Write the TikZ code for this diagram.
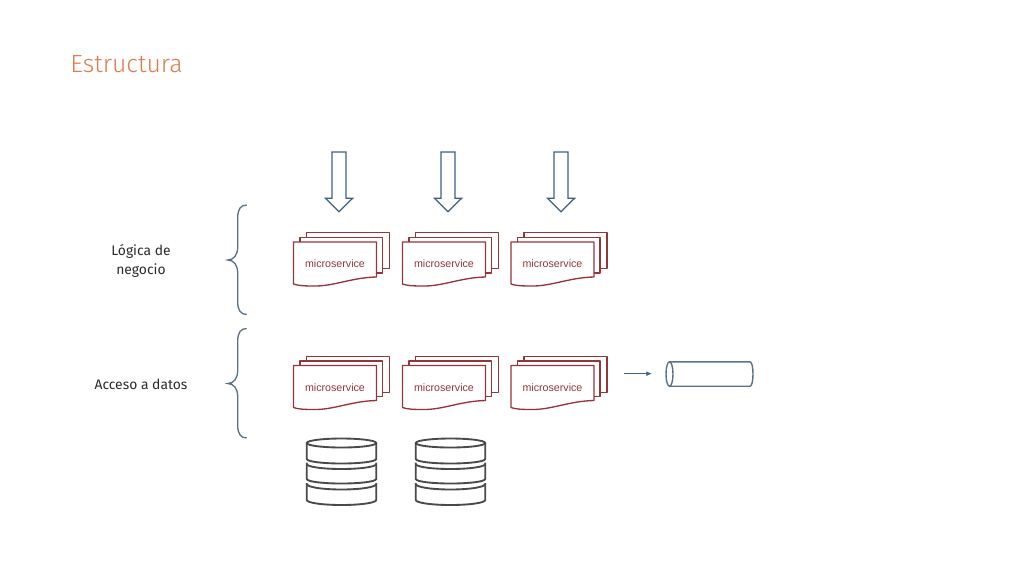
\documentclass[tikz,border=0pt]{standalone}
\usepackage{fontspec}
\setmainfont{Fira Sans}
\setsansfont{Liberation Sans}
\newfontfamily\thinfont{Fira Sans Light}
\usetikzlibrary{arrows.meta}
\definecolor{title}{HTML}{E07B4F}
\definecolor{label}{HTML}{2B2B2B}
\definecolor{wine}{HTML}{953439}
\definecolor{steel}{HTML}{3F5F85}
\definecolor{slate}{HTML}{5B7189}
\definecolor{graphite}{HTML}{4A4A4A}
\tikzset{
  caption/.style={font=\fontsize{10.4}{14.3}\selectfont, text=label, align=center, inner sep=0pt},
  sheet/.style={draw=wine, line width=1pt, line join=round},
  arrow/.style={-{Latex[length=1.5mm,width=1.3mm]}, draw=steel, line width=0.85pt},
  brace/.style={draw=slate, line width=1pt},
  disk/.style={draw=graphite, line width=1.4pt},
  inflow/.style={draw=steel, line width=1pt, line join=miter},
  queue/.style={draw=slate, line width=1.05pt},
  msstack/.pic={
    \draw[sheet] (13,-4.6) -- (13,-9.3) -- (96,-9.3) -- (96,26.7) -- (89,26.7);
    \draw[sheet] (6.5,0) -- (6.5,-4.6) -- (89,-4.6) -- (89,31) -- (83,31);
    \draw[sheet] (0,0) -- (83,0) -- (83,35) .. controls (58,35.5) and (40,44.5) .. (20,44)
      .. controls (10,44) and (4,43.5) .. (0,42) -- cycle;
    \node[font=\sffamily\fontsize{8}{10}\selectfont, text=wine, inner sep=0pt] (-text) at (41.5,21.7) {microservice};
  },
  dbstack/.pic={
    \draw[disk] (0,0) ellipse (34.7 and 4.5);
    \draw[disk] (-34.7,0) -- (-34.7,16) arc[start angle=180, end angle=360, x radius=34.7, y radius=-4.5] -- (34.7,0);
    \draw[disk] (-34.7,21) arc[start angle=180, end angle=360, x radius=34.7, y radius=-5];
    \draw[disk] (-34.7,19.5) -- (-34.7,36) arc[start angle=180, end angle=360, x radius=34.7, y radius=-4.5] -- (34.7,19.5);
    \draw[disk] (-34.7,41) arc[start angle=180, end angle=360, x radius=34.7, y radius=-5.5];
    \draw[disk] (-34.7,40) -- (-34.7,57) arc[start angle=180, end angle=360, x radius=34.7, y radius=-5] -- (34.7,40);
  },
  blockarrow/.pic={
    \draw[inflow] (-7,0) -- (7,0) -- (7,46.3) -- (13.5,46.3) -- (0,59.7) -- (-13.5,46.3) -- (-7,46.3) -- cycle;
  },
  bracket/.pic={
    \draw[brace] (19,0) .. controls (13,0) and (10,4) .. (10,13) -- (10,42)
      .. controls (10,50) and (6,55) .. (0,55) .. controls (6,55) and (10,60) .. (10,68)
      -- (10,97) .. controls (10,105) and (13,109.5) .. (19,109.5);
  },
  tube/.pic={
    \draw[queue] (0,0) ellipse (3.5 and 12.2);
    \draw[queue] (0,-12.2) -- (80.5,-12.2) .. controls (82.5,-12.2) and (83.5,-6) .. (83.5,0)
      .. controls (83.5,6) and (82.5,12.2) .. (80.5,12.2) -- (0,12.2);
  }
}
\begin{document}
\begin{tikzpicture}[x=0.75pt,y=-0.75pt]
  \useasboundingbox (0,0) rectangle (1024,576);
  \node[font=\thinfont\fontsize{18.6}{24}\selectfont, text=title, anchor=base west, inner sep=0pt] (heading) at (70,72) {Estructura};
  % capas
  \node[caption] (logic) at (141,261) {Lógica de\\negocio};
  \node[caption] (data) at (141,384) {Acceso a datos};
  \pic (bracelogic) at (227.7,205) {bracket};
  \pic (bracedata) at (227.7,328.5) {bracket};
  % entradas
  \pic (ina) at (339,152) {blockarrow};
  \pic (inb) at (448,152) {blockarrow};
  \pic (inc) at (561,152) {blockarrow};
  % servicios
  \pic (msa) at (293.5,242) {msstack};
  \pic (msb) at (402.5,242) {msstack};
  \pic (msc) at (511,242) {msstack};
  \pic (msd) at (293.5,365.5) {msstack};
  \pic (mse) at (402.5,365.5) {msstack};
  \pic (msf) at (511,365.5) {msstack};
  % cola
  \pic (bus) at (669.5,374) {tube};
  \coordinate (busout) at (624.3,373.7);
  \coordinate (busin) at (652,373.7);
  \draw[arrow] (busout) -- (busin);
  % almacenes
  \pic (dba) at (341.5,443) {dbstack};
  \pic (dbb) at (450.5,443) {dbstack};
\end{tikzpicture}
\end{document}
